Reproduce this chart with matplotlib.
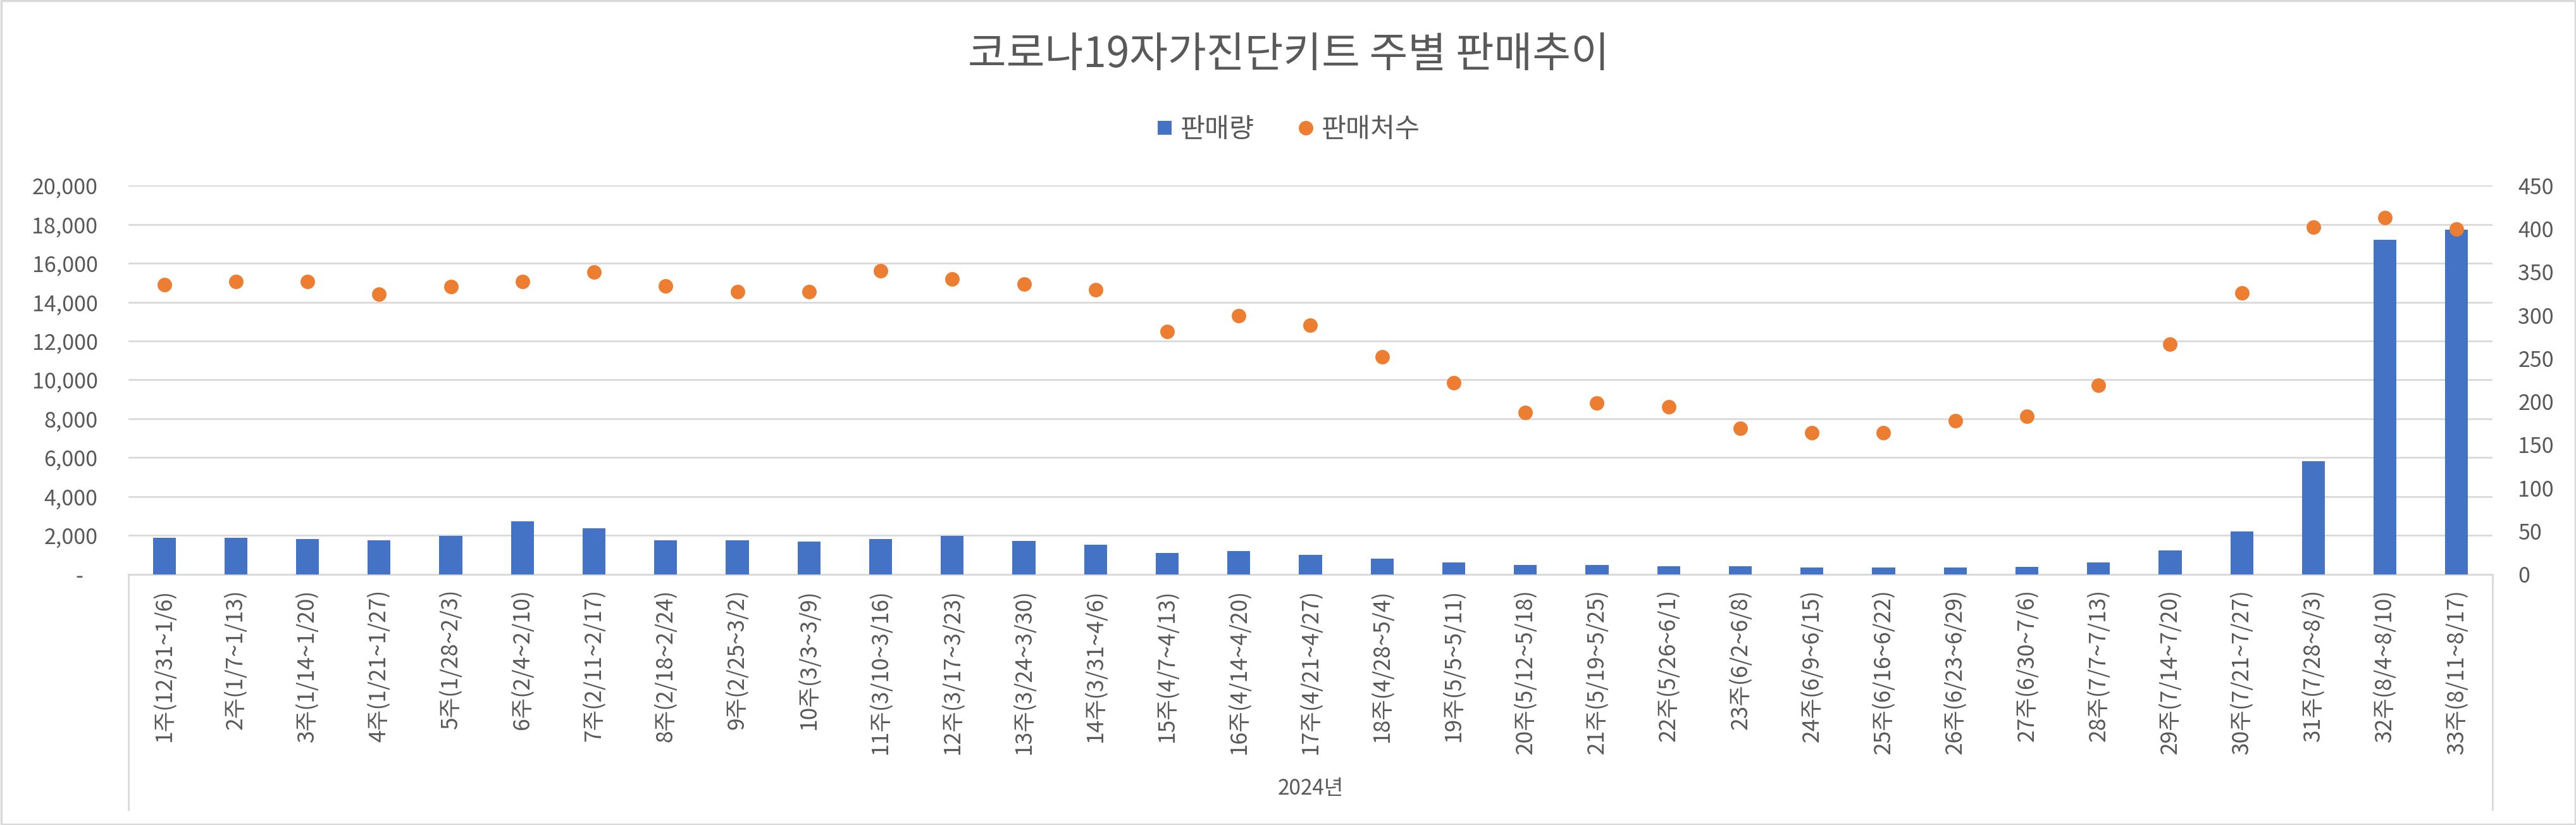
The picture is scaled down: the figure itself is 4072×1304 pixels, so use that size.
import matplotlib
matplotlib.use("Agg")
import matplotlib.pyplot as plt
from matplotlib.lines import Line2D
from matplotlib.patches import Rectangle
from matplotlib.ticker import FuncFormatter, MultipleLocator

plt.rcParams['font.family'] = ['Noto Sans CJK KR', 'DejaVu Sans']

# ---------------- data ----------------
title = "코로나19자가진단키트 주별 판매추이"
group_label = "2024년"
series_names = ["판매량", "판매처수"]

week_labels = [
    "1주(12/31~1/6)", "2주(1/7~1/13)", "3주(1/14~1/20)", "4주(1/21~1/27)",
    "5주(1/28~2/3)", "6주(2/4~2/10)", "7주(2/11~2/17)", "8주(2/18~2/24)",
    "9주(2/25~3/2)", "10주(3/3~3/9)", "11주(3/10~3/16)", "12주(3/17~3/23)",
    "13주(3/24~3/30)", "14주(3/31~4/6)", "15주(4/7~4/13)", "16주(4/14~4/20)",
    "17주(4/21~4/27)", "18주(4/28~5/4)", "19주(5/5~5/11)", "20주(5/12~5/18)",
    "21주(5/19~5/25)", "22주(5/26~6/1)", "23주(6/2~6/8)", "24주(6/9~6/15)",
    "25주(6/16~6/22)", "26주(6/23~6/29)", "27주(6/30~7/6)", "28주(7/7~7/13)",
    "29주(7/14~7/20)", "30주(7/21~7/27)", "31주(7/28~8/3)", "32주(8/4~8/10)",
    "33주(8/11~8/17)",
]

sales = [1860, 1860, 1800, 1760, 1960, 2710, 2350, 1730, 1730, 1670,
         1800, 1960, 1700, 1530, 1110, 1180, 980, 790, 590, 460,
         460, 420, 420, 330, 360, 360, 390, 590, 1210, 2190,
         5810, 17200, 17730]

stores = [335, 339, 339, 324, 333, 339, 350, 334, 327, 327,
          351, 342, 336, 329, 281, 299, 288, 252, 222, 187,
          198, 194, 169, 164, 164, 178, 183, 219, 266, 326,
          402, 413, 400]

# ---------------- style ----------------
BLUE = "#4472C4"
ORANGE = "#ED7D31"
TXT = "#595959"
GRID = "#D9D9D9"

W, H = 4073, 1304
fig = plt.figure(figsize=(W / 100, H / 100), dpi=100)

x0, x1 = 203, 3940
ytop, ybot = 293.3, 907.6
ax = fig.add_axes([x0 / W, 1 - ybot / H, (x1 - x0) / W, (ybot - ytop) / H])
ax2 = ax.twinx()

xs = list(range(len(week_labels)))
ax.bar(xs, sales, width=0.32, color=BLUE, zorder=3)
ax2.plot(xs, stores, linestyle="none", marker="o", markersize=16.5,
         color=ORANGE, markeredgewidth=0, zorder=4)

ax.set_xlim(-0.5, len(week_labels) - 0.5)
ax.set_ylim(0, 20000)
ax2.set_ylim(0, 450)
ax.yaxis.set_major_locator(MultipleLocator(2000))
ax2.yaxis.set_major_locator(MultipleLocator(50))
ax.yaxis.set_major_formatter(FuncFormatter(lambda v, p: "-   " if v == 0 else f"{int(v):,}"))
ax2.yaxis.set_major_formatter(FuncFormatter(lambda v, p: f"{int(v)}"))

ax.set_axisbelow(True)
ax.grid(axis="y", color=GRID, linewidth=2.0, zorder=0)
ax.grid(axis="x", visible=False)

for a in (ax, ax2):
    for s in a.spines.values():
        s.set_visible(False)
ax.spines["bottom"].set_visible(True)
ax.spines["bottom"].set_color(GRID)
ax.spines["bottom"].set_linewidth(2.0)

ax.set_xticks(xs)
ax.set_xticklabels(week_labels, rotation=90, ha="center", va="top",
                   fontsize=25.5, color=TXT)
ax.tick_params(axis="x", length=0, pad=17)
ax.tick_params(axis="y", length=0, pad=35, labelsize=24.5, labelcolor=TXT)
ax2.tick_params(axis="y", length=0, pad=29, labelsize=24.5, labelcolor=TXT)

# category group box lines
for xp in (x0, x1):
    fig.add_artist(Line2D([xp / W, xp / W], [1 - ybot / H, 1 - 1280 / H],
                          color=GRID, linewidth=2.0))
fig.text(((x0 + x1) / 2) / W, 1 - 1247 / H, group_label, ha="center",
         va="center", fontsize=24, color=TXT)

# title
fig.text(0.5, 1 - 87 / H, title, ha="center", va="center", fontsize=47.5,
         color=TXT)

# legend
handles = [
    Line2D([], [], linestyle="none", marker="s", markersize=16, color=BLUE,
           markeredgewidth=0),
    Line2D([], [], linestyle="none", marker="o", markersize=16.5,
           color=ORANGE, markeredgewidth=0),
]
leg = fig.legend(handles, series_names, loc="center",
                 bbox_to_anchor=(0.5, 1 - 205 / H), ncol=2, frameon=False,
                 fontsize=30.5, handlelength=0.6, handletextpad=0.3,
                 columnspacing=1.6, labelcolor=TXT)

# chart border
fig.add_artist(Rectangle((0.0004, 0.0008), 0.9992, 0.9984,
                         transform=fig.transFigure, fill=False,
                         edgecolor=GRID, linewidth=2.5))

fig.savefig("out.png", dpi=100, facecolor="white")
